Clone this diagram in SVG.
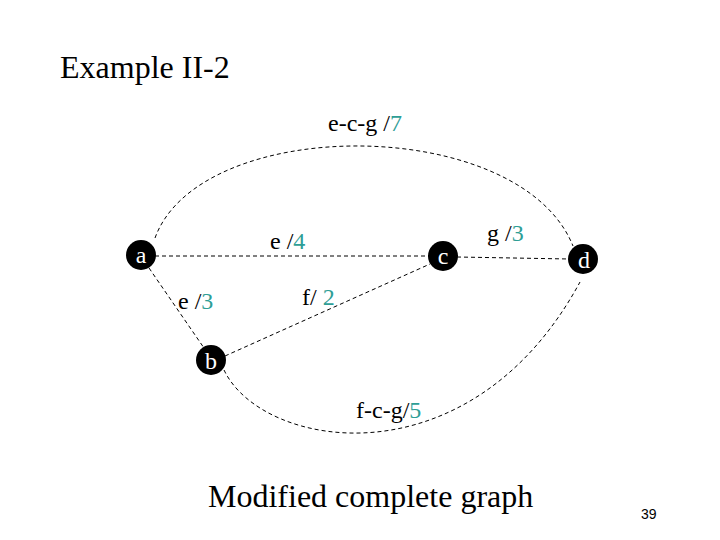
<svg xmlns="http://www.w3.org/2000/svg" width="720" height="540" viewBox="0 0 720 540">
<style>
.t{font-family:"Liberation Serif","Times New Roman",serif;fill:#000}
.n{fill:#000}
.nl{font-family:"Liberation Serif","Times New Roman",serif;fill:#fff;font-size:24px;text-anchor:middle}
.e{fill:none;stroke:#000;stroke-width:1;stroke-dasharray:4 3}
.g{fill:#2E9E96}
</style>
<rect width="720" height="540" fill="#fff"/>
<text class="t" x="60" y="78" font-size="32">Example II-2</text>
<g id="connectors">
<path class="e" d="M155,238 C200,114 520,114 573,246"/>
<path class="e" d="M224,370 C262,450 470,485 580,282"/>
<line class="e" x1="155" y1="256" x2="429" y2="256"/>
<line class="e" x1="457" y1="257" x2="569" y2="259"/>
<line class="e" x1="149" y1="268" x2="204" y2="348"/>
<line class="e" x1="225" y1="356" x2="430" y2="264"/>
</g>
<g id="label-ecg"><text class="t" x="328" y="131" font-size="24">e-c-g /<tspan class="g">7</tspan></text></g>
<g id="label-e4"><text class="t" x="270" y="249" font-size="24">e /<tspan class="g">4</tspan></text></g>
<g id="label-g3"><text class="t" x="487" y="241" font-size="24">g /<tspan class="g">3</tspan></text></g>
<g id="label-e3"><text class="t" x="178" y="309" font-size="24">e /<tspan class="g">3</tspan></text></g>
<g id="label-f2"><text class="t" x="302" y="305" font-size="24">f/ <tspan class="g">2</tspan></text></g>
<g id="label-fcg"><text class="t" x="356" y="418" font-size="24">f-c-g/<tspan class="g">5</tspan></text></g>
<g id="node-a"><circle class="n" cx="141" cy="255" r="15"/><text class="nl" x="141" y="263">a</text></g>
<g id="node-c"><circle class="n" cx="443" cy="256" r="15"/><text class="nl" x="443" y="264">c</text></g>
<g id="node-d"><circle class="n" cx="583" cy="259" r="15"/><text class="nl" x="584" y="268">d</text></g>
<g id="node-b"><circle class="n" cx="211" cy="360" r="15"/><text class="nl" x="211" y="369">b</text></g>
<text class="t" x="208" y="507" font-size="32">Modified complete graph</text>
<text x="641" y="519" font-size="14" font-family="Liberation Sans,Arial,sans-serif">39</text>
</svg>
